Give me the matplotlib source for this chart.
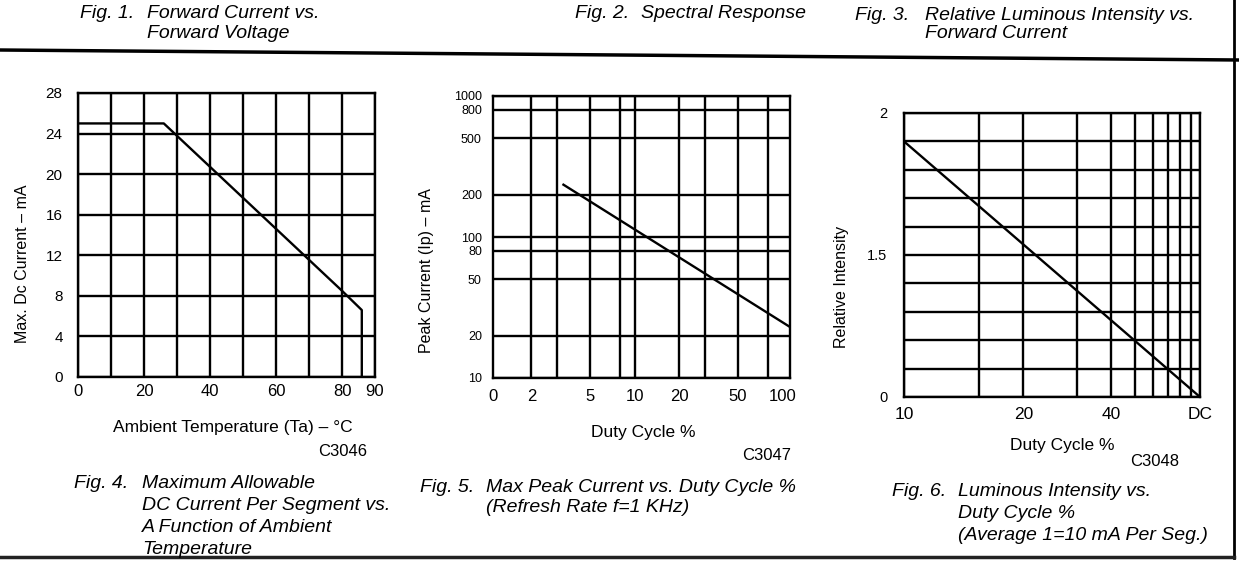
import numpy as np
import matplotlib
matplotlib.use('Agg')
import matplotlib.pyplot as plt
from matplotlib.lines import Line2D
from matplotlib.ticker import NullLocator

plt.rcParams['font.family'] = ['Liberation Sans', 'DejaVu Sans']

W, H = 1239, 568

# Fig. 4 - max DC current vs ambient temperature
temp_c = [0, 26, 80, 86, 86]
max_dc_ma = [25, 25, 8.5, 6.6, 0]
temp_grid = [0, 10, 20, 30, 40, 50, 60, 70, 80, 90]
temp_ticks = [0, 20, 40, 60, 80, 90]
dc_grid = [0, 4, 8, 12, 16, 20, 24, 28]

# Fig. 5 - max peak current vs duty cycle (log / log)
duty5 = [3.3, 113]
peak_ma = [235, 23]
duty5_grid = [2, 3, 5, 8, 10, 20, 30, 50, 80]
duty5_ticks = [1.1, 2, 5, 10, 20, 50, 100]
duty5_labels = ['0', '2', '5', '10', '20', '50', '100']
peak_grid = [10, 20, 50, 80, 100, 200, 500, 800, 1000]

# Fig. 6 - relative intensity vs duty cycle
duty6 = [10, 100]
rel_int = [1.9, 1.0]
duty6_grid = [10, 15, 20, 30, 40, 50, 60, 70, 80, 90, 100]
duty6_ticks = [10, 20, 40, 100]
duty6_labels = ['10', '20', '40', 'DC']
rel_grid = [1.0, 1.1, 1.2, 1.3, 1.4, 1.5, 1.6, 1.7, 1.8, 1.9, 2.0]
rel_ticks = [1.0, 1.5, 2.0]
rel_labels = ['0', '1.5', '2']

LW = 1.7


def fx(x):
    return x / W


def fy(y):
    return 1 - y / H


def box(l, t, r, b):
    return [l / W, 1 - b / H, (r - l) / W, (b - t) / H]


def style(ax):
    for s in ax.spines.values():
        s.set_linewidth(LW)
        s.set_color('black')
    ax.tick_params(length=0)


def grid(ax, xs, ys):
    for v in xs:
        ax.axvline(v, color='black', lw=LW, zorder=1)
    for v in ys:
        ax.axhline(v, color='black', lw=LW, zorder=1)


def caption(x_num, x_body, y0, dy, num, lines):
    fig.text(fx(x_num), fy(y0), num, style='italic', fontsize=14, va='center')
    for i, line in enumerate(lines):
        fig.text(fx(x_body), fy(y0 + i * dy), line, style='italic',
                 fontsize=14, va='center')


fig = plt.figure(figsize=(W / 100, H / 100), dpi=100, facecolor='white')

# ---- panel 1
ax1 = fig.add_axes(box(78, 93, 375, 377))
style(ax1)
grid(ax1, temp_grid, dc_grid)
ax1.plot(temp_c, max_dc_ma, color='black', lw=LW, zorder=2)
ax1.set_xlim(0, 90)
ax1.set_ylim(0, 28)
ax1.set_xticks(temp_ticks)
ax1.set_yticks(dc_grid)
ax1.tick_params(axis='x', labelsize=12, pad=5)
ax1.tick_params(axis='y', labelsize=11, pad=11)
ax1.set_xlabel('Ambient Temperature (Ta) – °C', fontsize=12.5)
ax1.xaxis.set_label_coords(0.52, -0.152)
ax1.set_ylabel('Max. Dc Current – mA', fontsize=11.5)
ax1.yaxis.set_label_coords(-0.16, 0.40)

# ---- panel 2
ax2 = fig.add_axes(box(493, 96, 790, 378))
style(ax2)
ax2.set_xscale('log')
ax2.set_yscale('log')
grid(ax2, duty5_grid, peak_grid)
ax2.plot(duty5, peak_ma, color='black', lw=LW, zorder=2)
ax2.set_xlim(1.1, 113)
ax2.set_ylim(10, 1000)
ax2.set_xticks(duty5_ticks, labels=duty5_labels)
ax2.set_yticks(peak_grid, labels=[str(v) for v in peak_grid])
ax2.xaxis.set_minor_locator(NullLocator())
ax2.yaxis.set_minor_locator(NullLocator())
ax2.tick_params(axis='x', labelsize=12, pad=8)
ax2.tick_params(axis='y', labelsize=9, pad=8)
ax2.set_xlabel('Duty Cycle %', fontsize=12.5)
ax2.xaxis.set_label_coords(0.505, -0.167)
ax2.set_ylabel('Peak Current (Ip) – mA', fontsize=11.5)
ax2.yaxis.set_label_coords(-0.2, 0.38)

# ---- panel 3
def fwd(x):
    x = np.clip(np.asarray(x, dtype=float), 2.001, None)
    return np.log10(np.log(x / 2.0))


def inv(y):
    return 2.0 * np.exp(10 ** np.asarray(y, dtype=float))


ax3 = fig.add_axes(box(904, 113, 1200, 397))
style(ax3)
ax3.set_xscale('function', functions=(fwd, inv))
grid(ax3, duty6_grid, rel_grid)
ax3.plot(duty6, rel_int, color='black', lw=LW, zorder=2)
ax3.set_xlim(10, 100)
ax3.set_ylim(1.0, 2.0)
ax3.set_xticks(duty6_ticks, labels=duty6_labels)
ax3.set_yticks(rel_ticks, labels=rel_labels)
ax3.xaxis.set_minor_locator(NullLocator())
ax3.tick_params(axis='x', labelsize=12.5, pad=7)
ax3.tick_params(axis='y', labelsize=10.5, pad=12)
ax3.set_xlabel('Duty Cycle %', fontsize=12.5)
ax3.xaxis.set_label_coords(0.534, -0.144)
ax3.set_ylabel('Relative Intensity', fontsize=11.5)
ax3.yaxis.set_label_coords(-0.186, 0.387)

# drawing numbers
fig.text(fx(343), fy(452), 'C3046', fontsize=12, ha='center', va='center')
fig.text(fx(767), fy(455), 'C3047', fontsize=12, ha='center', va='center')
fig.text(fx(1155), fy(462), 'C3048', fontsize=12, ha='center', va='center')

# captions
caption(80, 147, 13, 20, 'Fig. 1.', ['Forward Current vs.', 'Forward Voltage'])
caption(575, 641, 13, 20, 'Fig. 2.', ['Spectral Response'])
caption(855, 925, 15, 18, 'Fig. 3.', ['Relative Luminous Intensity vs.', 'Forward Current'])
caption(74, 142, 483, 22, 'Fig. 4.', ['Maximum Allowable', 'DC Current Per Segment vs.',
                                      'A Function of Ambient', 'Temperature'])
caption(420, 486, 488, 20, 'Fig. 5.', ['Max Peak Current vs. Duty Cycle %',
                                       '(Refresh Rate f=1 KHz)'])
caption(892, 958, 492, 22, 'Fig. 6.', ['Luminous Intensity vs.', 'Duty Cycle %',
                                       '(Average 1=10 mA Per Seg.)'])

# page rules
fig.add_artist(Line2D([0, 1], [fy(50), fy(60)], color='black', lw=2.5))
fig.add_artist(Line2D([fx(1234), fx(1234)], [fy(0), fy(558)], color='black', lw=2))
fig.add_artist(Line2D([0, fx(1234)], [fy(557), fy(557)], color='#222222', lw=2.5))

fig.savefig('out.png', dpi=100, facecolor='white')
